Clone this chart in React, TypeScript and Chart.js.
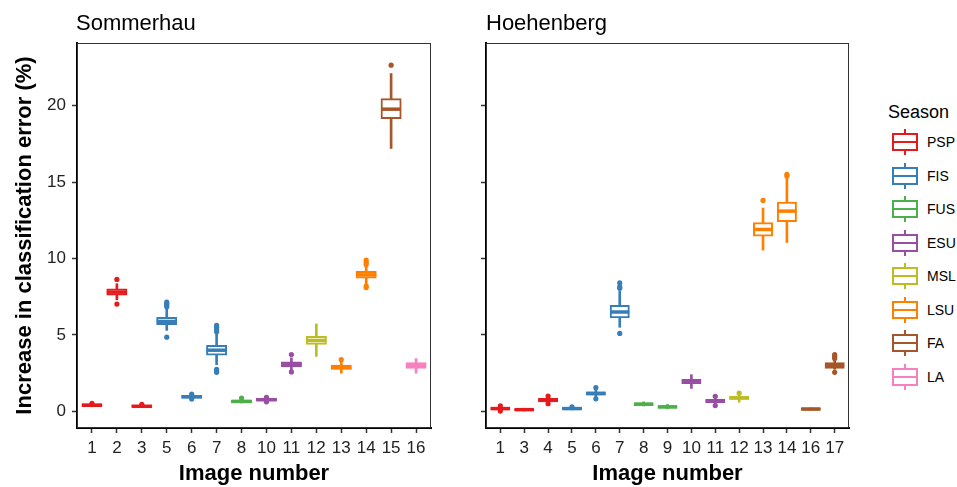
import React, { useEffect, useRef } from 'react';
import { Chart, registerables } from 'chart.js';

Chart.register(...registerables);

const FONT = "'Liberation Sans', Arial, Helvetica, sans-serif";

// ---- Legend / colours ----
const SEASONS = ['PSP', 'FIS', 'FUS', 'ESU', 'MSL', 'LSU', 'FA', 'LA'];
const SEASON_COLORS = ['#E41A1C', '#377EB8', '#4DAF4A', '#984EA3', '#BCBD22', '#FF7F00', '#A65628', '#F781BF'];

// ---- Axis ----
const Y_TICKS = [0, 5, 10, 15, 20];
const Y_MIN = -1.09;
const Y_MAX = 24.1;
const Y_TITLE = 'Increase in classification error (%)';
const X_TITLE = 'Image number';

// ---- Sommerhau ----
const S_IMAGES = ['1', '2', '3', '5', '6', '7', '8', '10', '11', '12', '13', '14', '15', '16'];
const S_SEASON = ['PSP', 'PSP', 'PSP', 'FIS', 'FIS', 'FIS', 'FUS', 'ESU', 'ESU', 'MSL', 'LSU', 'LSU', 'FA', 'LA'];
const S_LOW = [0.30, 7.30, 0.25, 5.30, 0.85, 3.05, 0.55, 0.65, 2.70, 3.60, 2.50, 8.35, 17.2, 2.50];
const S_Q1 = [0.36, 7.65, 0.30, 5.72, 0.90, 3.72, 0.60, 0.72, 2.95, 4.42, 2.78, 8.75, 19.2, 2.85];
const S_MED = [0.40, 7.80, 0.33, 5.88, 0.95, 4.00, 0.65, 0.76, 3.07, 4.64, 2.87, 8.93, 19.77, 3.00];
const S_Q3 = [0.44, 7.97, 0.37, 6.10, 1.00, 4.28, 0.70, 0.80, 3.20, 4.87, 2.98, 9.12, 20.42, 3.15];
const S_HIGH = [0.50, 8.35, 0.42, 6.75, 1.08, 5.05, 0.80, 0.88, 3.50, 5.72, 3.25, 9.50, 22.1, 3.45];
const S_OUT = [
  [0.53],
  [8.63, 7.02],
  [0.45],
  [6.85, 6.95, 7.05, 7.15, 4.85],
  [1.12, 0.80],
  [5.20, 5.35, 5.50, 5.62, 2.75, 2.60, 2.55],
  [0.87],
  [0.92, 0.62],
  [3.72, 2.58],
  [],
  [3.38],
  [9.60, 9.75, 9.90, 8.20, 8.10],
  [22.65],
  [],
];

// ---- Hoehenberg ----
const H_IMAGES = ['1', '3', '4', '5', '6', '7', '8', '9', '10', '11', '12', '13', '14', '16', '17'];
const H_SEASON = ['PSP', 'PSP', 'PSP', 'FIS', 'FIS', 'FIS', 'FUS', 'FUS', 'ESU', 'ESU', 'MSL', 'LSU', 'LSU', 'FA', 'FA'];
const H_LOW = [0.05, 0.03, 0.55, 0.10, 0.95, 5.50, 0.35, 0.18, 1.50, 0.45, 0.60, 10.55, 11.05, 0.08, 2.75];
const H_Q1 = [0.14, 0.08, 0.66, 0.15, 1.10, 6.15, 0.42, 0.25, 1.85, 0.60, 0.82, 11.50, 12.45, 0.12, 2.85];
const H_MED = [0.18, 0.11, 0.73, 0.18, 1.17, 6.50, 0.47, 0.29, 1.95, 0.68, 0.88, 11.90, 13.10, 0.15, 3.00];
const H_Q3 = [0.22, 0.14, 0.80, 0.22, 1.24, 6.90, 0.52, 0.33, 2.05, 0.75, 0.95, 12.30, 13.65, 0.18, 3.15];
const H_HIGH = [0.32, 0.20, 0.95, 0.28, 1.40, 7.85, 0.62, 0.45, 2.40, 0.90, 1.15, 13.30, 15.25, 0.22, 3.30];
const H_OUT = [
  [0.36, 0.02],
  [],
  [1.00, 0.50],
  [0.30],
  [1.55, 0.82],
  [8.05, 8.15, 8.40, 5.10],
  [],
  [],
  [],
  [0.98, 0.38],
  [1.20],
  [13.80],
  [15.40, 15.50],
  [],
  [3.45, 3.60, 3.72, 2.55],
];

const colorOf = (s: string) => SEASON_COLORS[SEASONS.indexOf(s)];

const panelBorder = {
  id: 'panelBorder',
  afterDraw(chart: any) {
    const { ctx, chartArea } = chart;
    const { left, top, right, bottom } = chartArea;
    ctx.save();
    ctx.strokeStyle = '#333333';
    ctx.lineWidth = 1;
    ctx.strokeRect(left + 0.5, top + 0.5, right - left - 1, bottom - top - 1);
    ctx.restore();
  },
};

type Panel = {
  images: string[];
  season: string[];
  low: number[];
  q1: number[];
  med: number[];
  q3: number[];
  high: number[];
  out: number[][];
};

function buildConfig(p: Panel, showYLabels: boolean, yWidth: number, padRight: number, boxW: number): any {
  const colors = p.season.map(colorOf);
  const outData: { x: number; y: number }[] = [];
  const outColors: string[] = [];
  p.out.forEach((arr, i) => {
    arr.forEach((v) => {
      outData.push({ x: i + 1, y: v });
      outColors.push(colors[i]);
    });
  });
  const n = p.images.length;
  const gridOpts = {
    display: true,
    offset: false,
    drawOnChartArea: false,
    drawTicks: true,
    tickLength: 5,
    tickWidth: 1.5,
    tickColor: '#333333',
  };
  const borderOpts = { display: true, color: '#000000', width: 2 };
  return {
    type: 'bar',
    data: {
      datasets: [
        {
          type: 'scatter',
          label: 'outliers',
          data: outData,
          pointStyle: 'circle',
          pointRadius: 2.6,
          pointHoverRadius: 2.6,
          pointBorderWidth: 0,
          pointBackgroundColor: outColors,
          pointBorderColor: outColors,
          order: 0,
        },
        {
          type: 'scatter',
          label: 'median',
          data: p.med.map((v, i) => ({ x: i + 1, y: v })),
          pointStyle: 'line',
          pointRadius: boxW / 2 - 0.5,
          pointHoverRadius: boxW / 2 - 0.5,
          pointBorderWidth: 3.5,
          pointBorderColor: colors,
          pointBackgroundColor: colors,
          order: 1,
        },
        {
          type: 'bar',
          label: 'box',
          data: p.q1.map((v, i) => ({ x: i + 1, y: [v, p.q3[i]] })),
          backgroundColor: '#ffffff',
          borderColor: colors,
          borderWidth: 2,
          borderSkipped: false,
          inflateAmount: 1,
          barThickness: boxW - 2,
          grouped: false,
          order: 2,
        },
        {
          type: 'bar',
          label: 'whisker',
          data: p.low.map((v, i) => ({ x: i + 1, y: [v, p.high[i]] })),
          backgroundColor: colors,
          borderWidth: 0,
          barThickness: 2,
          grouped: false,
          order: 3,
        },
      ],
    },
    options: {
      responsive: false,
      animation: false,
      events: [],
      layout: { autoPadding: false, padding: { top: 43, right: padRight, bottom: 0, left: 0 } },
      plugins: {
        legend: { display: false },
        tooltip: { enabled: false },
        title: { display: false },
      },
      scales: {
        x: {
          type: 'linear',
          min: 0.4,
          max: n + 0.6,
          offset: false,
          afterBuildTicks: (s: any) => {
            s.ticks = p.images.map((_, i) => ({ value: i + 1 }));
          },
          afterFit: (s: any) => {
            s.height = 59;
            s.paddingLeft = 0;
            s.paddingRight = 0;
          },
          ticks: {
            autoSkip: false,
            maxRotation: 0,
            minRotation: 0,
            padding: 5,
            color: '#222222',
            font: { family: FONT, size: 17 },
            callback: (_v: any, i: number) => p.images[i],
          },
          grid: gridOpts,
          border: borderOpts,
          title: {
            display: true,
            text: X_TITLE,
            color: '#000000',
            font: { family: FONT, size: 22, weight: 'bold' },
            padding: { top: 3, bottom: 0 },
          },
        },
        y: {
          type: 'linear',
          min: Y_MIN,
          max: Y_MAX,
          afterBuildTicks: (s: any) => {
            s.ticks = Y_TICKS.map((v) => ({ value: v }));
          },
          afterFit: (s: any) => {
            s.width = yWidth;
            s.paddingTop = 0;
            s.paddingBottom = 0;
          },
          ticks: {
            display: showYLabels,
            padding: 6,
            color: '#222222',
            font: { family: FONT, size: 17 },
            callback: (v: any) => String(v),
          },
          grid: gridOpts,
          border: borderOpts,
          title: {
            display: showYLabels,
            text: Y_TITLE,
            color: '#000000',
            font: { family: FONT, size: 22, weight: 'bold' },
            padding: { top: 12, bottom: 0 },
          },
        },
      },
    },
    plugins: [panelBorder],
  };
}

function PanelChart(props: { panel: Panel; left: number; width: number; showY: boolean; yWidth: number; padRight: number; boxW: number }) {
  const ref = useRef<HTMLCanvasElement | null>(null);
  useEffect(() => {
    if (!ref.current) return;
    const chart = new Chart(ref.current, buildConfig(props.panel, props.showY, props.yWidth, props.padRight, props.boxW));
    return () => chart.destroy();
  }, []);
  return (
    <canvas
      ref={ref}
      width={props.width}
      height={487}
      style={{ position: 'absolute', left: props.left, top: 0, width: props.width, height: 487, display: 'block' }}
    />
  );
}

const SOMMERHAU: Panel = { images: S_IMAGES, season: S_SEASON, low: S_LOW, q1: S_Q1, med: S_MED, q3: S_Q3, high: S_HIGH, out: S_OUT };
const HOEHENBERG: Panel = { images: H_IMAGES, season: H_SEASON, low: H_LOW, q1: H_Q1, med: H_MED, q3: H_Q3, high: H_HIGH, out: H_OUT };

export default function App() {
  return (
    <div
      style={{
        position: 'absolute',
        left: 0,
        top: 0,
        width: 957,
        height: 487,
        overflow: 'hidden',
        background: '#ffffff',
        fontFamily: FONT,
        color: '#000',
      }}
    >
      <PanelChart panel={SOMMERHAU} left={0} width={440} showY={true} yWidth={77} padRight={9} boxW={21} />
      <PanelChart panel={HOEHENBERG} left={440} width={420} showY={false} yWidth={46} padRight={11} boxW={20} />
      <div style={{ position: 'absolute', left: 76, top: 12, fontSize: 22, lineHeight: '22px', whiteSpace: 'nowrap' }}>Sommerhau</div>
      <div style={{ position: 'absolute', left: 486, top: 12, fontSize: 22, lineHeight: '22px', whiteSpace: 'nowrap' }}>Hoehenberg</div>
      <div style={{ position: 'absolute', left: 888, top: 103, fontSize: 18, lineHeight: '18px', whiteSpace: 'nowrap' }}>Season</div>
      {SEASONS.map((s, i) => {
        const cy = 142 + i * 33.57;
        const c = SEASON_COLORS[i];
        return (
          <React.Fragment key={s}>
            <div style={{ position: 'absolute', left: 892, top: cy - 13, width: 26, height: 26 }}>
              <div style={{ position: 'absolute', left: 12, top: 0, width: 2, height: 26, background: c }} />
              <div
                style={{
                  position: 'absolute',
                  left: 0,
                  top: 4,
                  width: 26,
                  height: 18,
                  boxSizing: 'border-box',
                  border: `2px solid ${c}`,
                  background: '#fff',
                }}
              />
              <div style={{ position: 'absolute', left: 0, top: 12, width: 26, height: 2, background: c }} />
            </div>
            <div style={{ position: 'absolute', left: 927, top: cy - 8, fontSize: 14, lineHeight: '16px', whiteSpace: 'nowrap' }}>{s}</div>
          </React.Fragment>
        );
      })}
    </div>
  );
}
